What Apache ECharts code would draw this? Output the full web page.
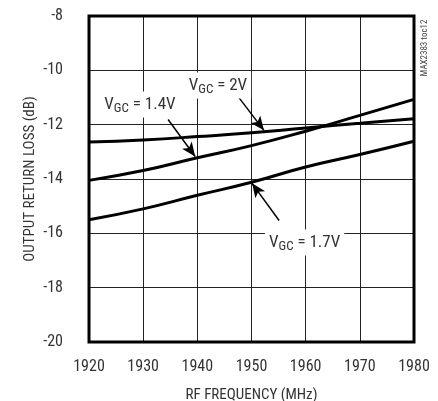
<!DOCTYPE html>
<html>
<head>
<meta charset="utf-8">
<script src="https://cdn.jsdelivr.net/npm/echarts@6/dist/echarts.min.js"></script>
<style>html,body{margin:0;padding:0;background:#fff}#c{width:438px;height:401px}</style>
</head>
<body>
<div id="c"></div>
<script>
var freq = [1920, 1930, 1940, 1950, 1960, 1970, 1980];
var vgc14 = [-14.05, -13.69, -13.22, -12.77, -12.24, -11.66, -11.07];
var vgc17 = [-15.5, -15.1, -14.6, -14.12, -13.56, -13.1, -12.61];
var vgc20 = [-12.64, -12.56, -12.44, -12.30, -12.12, -11.95, -11.78];
var xTicks = [1920, 1930, 1940, 1950, 1960, 1970, 1980];
var yTicks = [-20, -18, -16, -14, -12, -10, -8];
// annotations in data coordinates
var labels = [
  {main: 'V', sub: 'GC', rest: ' = 2V', at: [1943.8, -10.56]},
  {main: 'V', sub: 'GC', rest: ' = 1.4V', at: [1929.4, -11.26]},
  {main: 'V', sub: 'GC', rest: ' = 1.7V', at: [1959.8, -16.34]}
];
var arrows = [
  [[1947.5, -10.96], [1952.3, -12.21]],
  [[1934.6, -11.81], [1939.6, -13.17]],
  [[1955.1, -15.53], [1950.1, -14.16]]
];

var FONT = "'Liberation Sans Narrow', 'Arial Narrow', 'Roboto Condensed', 'Liberation Sans', sans-serif";
function pairs(ys) { return freq.map(function (f, i) { return [f, ys[i]]; }); }

var chart = echarts.init(document.getElementById('c'), null, {renderer: 'canvas'});
var lineStyle = {color: '#000', width: 3};
var option = {
  animation: false,
  backgroundColor: '#fff',
  grid: {left: 89, right: 24, top: 16, bottom: 59, show: true, borderColor: '#000', borderWidth: 3,
    backgroundColor: 'transparent', z: 5, containLabel: false, outerBoundsMode: 'none'},
  xAxis: {
    type: 'value', min: xTicks[0], max: xTicks[xTicks.length - 1], interval: 10,
    name: 'RF FREQUENCY (MHz)', nameLocation: 'middle', nameGap: 46, nameMoveOverlap: false,
    nameTextStyle: {fontFamily: FONT, fontSize: 15, color: '#333'},
    axisLine: {show: false}, axisTick: {show: false},
    axisLabel: {fontFamily: FONT, fontSize: 16, color: '#333', margin: 17,
      formatter: function (v) { return String(v); }},
    splitLine: {show: true, lineStyle: {color: '#222', width: 1}}
  },
  yAxis: {
    type: 'value', min: yTicks[0], max: yTicks[yTicks.length - 1], interval: 2,
    name: 'OUTPUT RETURN LOSS (dB)', nameLocation: 'middle', nameGap: 51, nameMoveOverlap: false,
    nameTextStyle: {fontFamily: FONT, fontSize: 15, color: '#333'},
    axisLine: {show: false}, axisTick: {show: false},
    axisLabel: {fontFamily: FONT, fontSize: 16, color: '#333', margin: 26},
    splitLine: {show: true, lineStyle: {color: '#222', width: 1}}
  },
  series: [
    {type: 'line', data: pairs(vgc20), smooth: true, showSymbol: false, lineStyle: lineStyle, z: 3,
     markLine: {silent: true, symbol: ['none', 'arrow'], symbolSize: [9, 14], label: {show: false},
       lineStyle: {color: '#000', width: 1.5, type: 'solid'},
       data: arrows.map(function (a) { return [{coord: a[0]}, {coord: a[1]}]; })}},
    {type: 'line', data: pairs(vgc14), smooth: true, showSymbol: false, lineStyle: lineStyle, z: 3},
    {type: 'line', data: pairs(vgc17), smooth: true, showSymbol: false, lineStyle: lineStyle, z: 3}
  ]
};
chart.setOption(option);

var g = labels.map(function (l) {
  var p = chart.convertToPixel({gridIndex: 0}, l.at);
  return {
    type: 'text', x: p[0], y: p[1], z: 10,
    style: {
      text: '{m|' + l.main + '}{s|' + l.sub + '}{m|' + l.rest + '}',
      align: 'center', verticalAlign: 'middle',
      backgroundColor: '#fff', padding: [3, 4, 3, 4],
      rich: {
        m: {fontFamily: FONT, fontSize: 17, fill: '#333', lineHeight: 20},
        s: {fontFamily: FONT, fontSize: 13, fill: '#333', lineHeight: 20, padding: [8, 0, 0, 0]}
      }
    }
  };
});
g.push({
  type: 'text', x: 425, y: 48, rotation: Math.PI / 2, z: 10,
  style: {text: 'MAX2383 toc12', fontFamily: FONT, fontSize: 9, fill: '#444', align: 'center', verticalAlign: 'middle'}
});
chart.setOption({graphic: g});
</script>
</body>
</html>
